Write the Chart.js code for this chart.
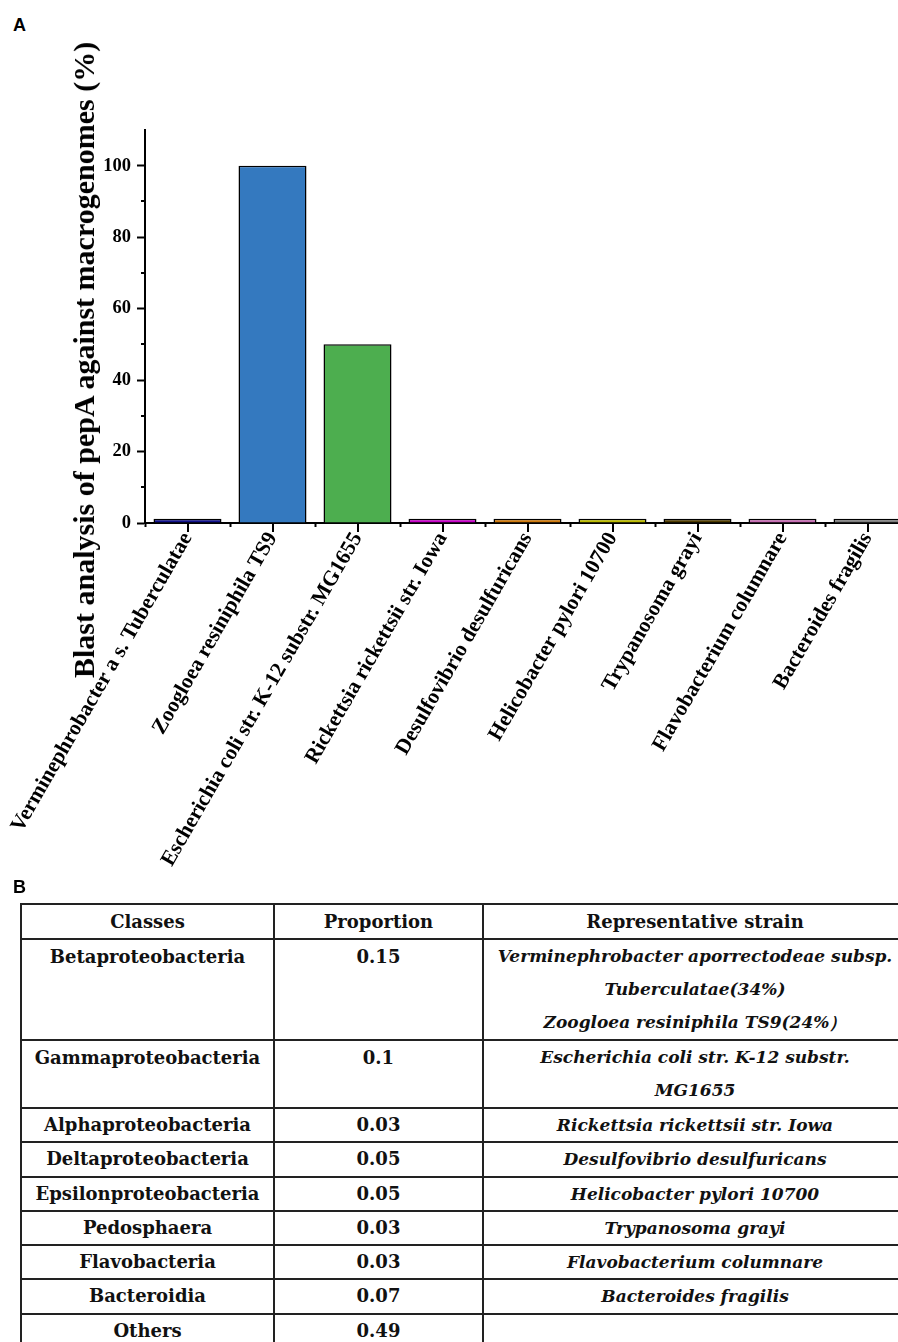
<!DOCTYPE html>
<html>
<head>
<meta charset="utf-8">
<script src="https://cdn.jsdelivr.net/npm/chart.js@4.4.1/dist/chart.umd.min.js"></script>
<style>
  html, body { margin: 0; padding: 0; background: #fff; width: 898px; height: 1342px; overflow: hidden; }
  #wrap { position: relative; width: 898px; height: 1342px; overflow: hidden; }
  .panel { position: absolute; font: bold 18px "Liberation Sans", Arial, sans-serif; line-height: 18px; color: #000; }
  #chartBox { position: absolute; left: 0; top: 0; width: 925px; height: 885px; }
  #yTitle {
    position: absolute; left: 84px; top: 360px; white-space: nowrap;
    font: bold 30px "Liberation Serif", "Times New Roman", serif; line-height: 30px; color: #000;
    transform: translate(-50%, -50%) rotate(-90deg);
  }
  table#classTable {
    position: absolute; left: 20px; top: 903px; width: 886px; border-collapse: collapse; table-layout: fixed;
    font-family: "DejaVu Serif", serif; font-weight: bold; font-size: 18px; color: #111;
  }
  #classTable td, #classTable th { border: 2px solid #222; padding: 0; text-align: center; line-height: 32.3px; vertical-align: top; }
  #classTable th { font-weight: bold; line-height: 33px; }
  #classTable tr.multi td { line-height: 33px; }
  #classTable td.strain { font-style: italic; font-size: 17px; }
</style>
</head>
<body>
<div id="wrap">
  <div class="panel" style="left:13px; top:16px;">A</div>
  <div id="chartBox"><canvas id="bars" width="925" height="885"></canvas></div>
  <div id="yTitle">Blast analysis of pepA against macrogenomes (%)</div>
  <div class="panel" style="left:13px; top:878px;">B</div>
  <table id="classTable"></table>
</div>
<script>
// Panel A: BLAST hits of pepA per strain
const strains = [
  "Verminephrobacter a s. Tuberculatae",
  "Zoogloea resiniphila TS9",
  "Escherichia coli str. K-12 substr. MG1655",
  "Rickettsia rickettsii str. Iowa",
  "Desulfovibrio desulfuricans",
  "Helicobacter pylori 10700",
  "Trypanosoma grayi",
  "Flavobacterium columnare",
  "Bacteroides fragilis"
];
const blastPercent = [1.2, 100, 50, 1.2, 1.2, 1.2, 1.2, 1.2, 1.2];
const barColors = ["#10108a", "#3479bf", "#4dae4f", "#c800c8", "#cf7a0c", "#bcbc00", "#503c00", "#c86eb4", "#7f7f7f"];
const yMajorTicks = [0, 20, 40, 60, 80, 100];
const yMinorTicks = [10, 30, 50, 70, 90];
const yMax = 110;

// Panel B: class composition table
const tableHeaders = ["Classes", "Proportion", "Representative strain"];
const taxClasses = ["Betaproteobacteria", "Gammaproteobacteria", "Alphaproteobacteria", "Deltaproteobacteria",
  "Epsilonproteobacteria", "Pedosphaera", "Flavobacteria", "Bacteroidia", "Others"];
const proportions = ["0.15", "0.1", "0.03", "0.05", "0.05", "0.03", "0.03", "0.07", "0.49"];
const representativeStrains = [
  ["Verminephrobacter aporrectodeae subsp.", "Tuberculatae(34%)", "Zoogloea resiniphila TS9(24%\uFF09"],
  ["Escherichia coli str. K-12 substr.", "MG1655"],
  ["Rickettsia rickettsii str. Iowa"],
  ["Desulfovibrio desulfuricans"],
  ["Helicobacter pylori 10700"],
  ["Trypanosoma grayi"],
  ["Flavobacterium columnare"],
  ["Bacteroides fragilis"],
  []
];

const serif = "'Liberation Serif', 'Times New Roman', serif";

// extra tick marks: short minor ticks on y, longer centre ticks on x
const extraTicks = {
  id: 'extraTicks',
  afterDraw(chart) {
    const ctx = chart.ctx, x = chart.scales.x, y = chart.scales.y;
    ctx.save();
    ctx.strokeStyle = '#000';
    ctx.lineWidth = 2;
    ctx.beginPath();
    yMinorTicks.forEach(v => {
      const py = Math.round(y.getPixelForValue(v));
      ctx.moveTo(x.left - 4, py);
      ctx.lineTo(x.left, py);
    });
    strains.forEach((s, i) => {
      const px = Math.round(x.getPixelForValue(i));
      ctx.moveTo(px, y.bottom);
      ctx.lineTo(px, y.bottom + 9);
    });
    ctx.stroke();
    ctx.restore();
  }
};

new Chart(document.getElementById('bars'), {
  type: 'bar',
  data: {
    labels: strains,
    datasets: [{
      data: blastPercent,
      backgroundColor: barColors,
      borderColor: '#000',
      borderWidth: 1.5,
      barPercentage: 0.8,
      categoryPercentage: 1.0
    }]
  },
  options: {
    responsive: false,
    devicePixelRatio: 1,
    animation: false,
    layout: { padding: { top: 130, right: 15, left: 0, bottom: 0 } },
    plugins: { legend: { display: false }, tooltip: { enabled: false } },
    scales: {
      x: {
        offset: true,
        grid: { drawOnChartArea: false, offset: true, tickLength: 4, tickWidth: 2, tickColor: '#000' },
        border: { display: true, color: '#000', width: 2 },
        ticks: {
          color: '#000', minRotation: 60, maxRotation: 60, autoSkip: false, padding: 1,
          font: { family: serif, weight: 'bold', size: 21.5 }
        },
        afterFit(scale) { scale.height = 362; scale.paddingLeft = 0; scale.paddingRight = 0; }
      },
      y: {
        min: 0, max: yMax,
        grid: { drawOnChartArea: false, tickLength: 8, tickWidth: 2, tickColor: '#000' },
        border: { display: true, color: '#000', width: 2 },
        afterBuildTicks(scale) { scale.ticks = yMajorTicks.map(v => ({ value: v })); },
        ticks: {
          color: '#000', padding: 6,
          font: { family: serif, weight: 'bold', size: 18.5 }
        },
        afterFit(scale) { scale.width = 145; }
      }
    }
  },
  plugins: [extraTicks]
});

// build the table
const table = document.getElementById('classTable');
const colWidths = [253, 209, 424];
const cg = document.createElement('colgroup');
colWidths.forEach(w => { const c = document.createElement('col'); c.style.width = w + 'px'; cg.appendChild(c); });
table.appendChild(cg);
const hr = document.createElement('tr');
tableHeaders.forEach(h => { const th = document.createElement('th'); th.textContent = h; hr.appendChild(th); });
table.appendChild(hr);
taxClasses.forEach((cls, i) => {
  const tr = document.createElement('tr');
  if (representativeStrains[i].length > 1) tr.className = 'multi';
  const c1 = document.createElement('td'); c1.textContent = cls;
  const c2 = document.createElement('td'); c2.textContent = proportions[i];
  const c3 = document.createElement('td'); c3.className = 'strain';
  representativeStrains[i].forEach((line, k) => {
    if (k) c3.appendChild(document.createElement('br'));
    c3.appendChild(document.createTextNode(line));
  });
  if (!representativeStrains[i].length) c3.innerHTML = '&nbsp;';
  tr.append(c1, c2, c3);
  table.appendChild(tr);
});
</script>
</body>
</html>
